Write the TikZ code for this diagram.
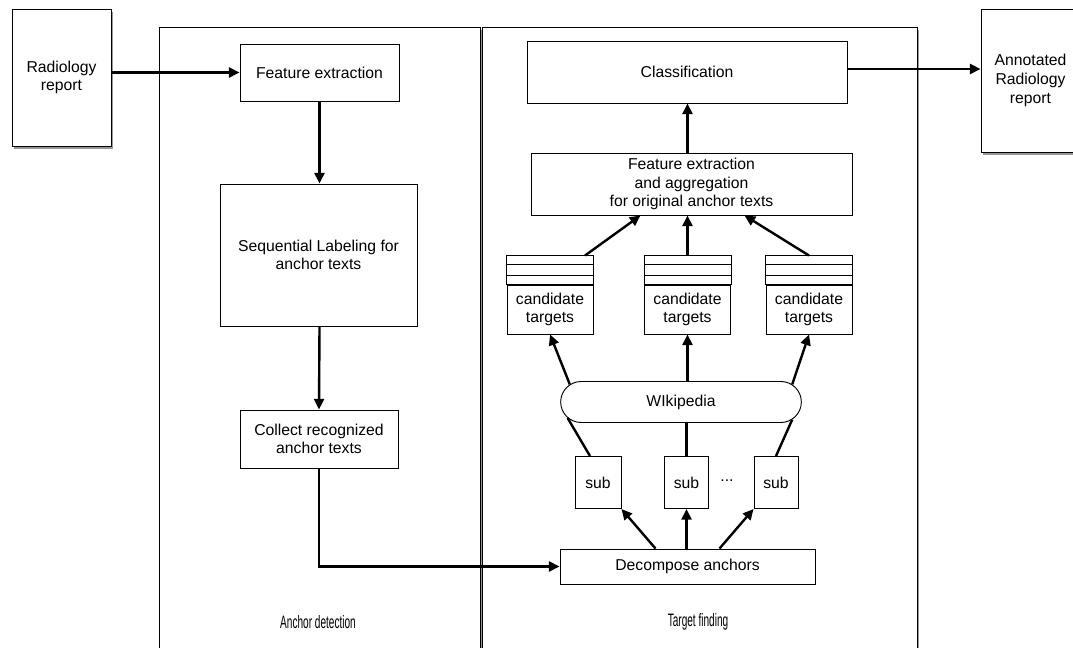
\documentclass[tikz,border=0pt]{standalone}
\usepackage{fontspec}
\setmainfont{Liberation Sans}
\usetikzlibrary{arrows.meta,shapes.misc,shadows}
\newcommand{\px}{0.75pt}

\begin{document}
\begin{tikzpicture}[x=0.75pt,y=-0.75pt,line width=.7pt,
  font=\fontsize{11.8}{14}\selectfont,
  box/.style={draw,fill=white,align=center,inner sep=2pt},
  shade/.style={drop shadow={shadow xshift=1.6pt,shadow yshift=-2.2pt,fill=black!55,opacity=.75}},
  arr/.style={-{Triangle[length=8pt,width=7.5pt]},line width=1.8pt},
  link/.style={line width=1.8pt}]
\path[use as bounding box] (0,0) rectangle (1073,648);
% panels
\draw[fill=white,shade] (159,27) rectangle (480,670);
\draw[fill=white,shade] (482,27) rectangle (917,670);
\node (anchorlbl) at (318,622) {\fontsize{13.5}{14}\selectfont\scalebox{0.56}[1]{Anchor detection}};
\node (targetlbl) at (698,622) {\fontsize{13.5}{14}\selectfont\scalebox{0.56}[1]{Target finding}};
% documents
\node[box,shade,minimum width=99*\px,minimum height=137*\px] (rad) at (61.5,77.5) {Radiology\\report};
\node[box,shade,minimum width=99*\px,minimum height=143*\px] (ann) at (1030.5,80.5) {Annotated\\Radiology\\report};
% anchor detection
\node[box,minimum width=159*\px,minimum height=57*\px] (fe) at (319.5,72.5) {Feature extraction};
\node[box,minimum width=197*\px,minimum height=142*\px] (seq) at (318.5,255) {Sequential Labeling for\\anchor texts};
\node[box,minimum width=158*\px,minimum height=58*\px] (col) at (319,439) {Collect recognized\\anchor texts};
% target finding
\node[box,minimum width=320*\px,minimum height=62*\px] (class) at (687,72) {Classification};
\node[box,minimum width=321*\px,minimum height=62*\px] (agg) at (691.5,184) {Feature extraction\\and aggregation\\for original anchor texts};
\foreach \n/\x in {ca/550,cb/687.5,cc/809}{
  \node[box,minimum width=86*\px,minimum height=49*\px] (\n) at (\x,309.5) {candidate\\targets};
  \draw[fill=white] (\n.north west) rectangle ([yshift=29*\px]\n.north east);
  \draw ([yshift=9*\px]\n.north west) -- ([yshift=9*\px]\n.north east);
  \draw ([yshift=20*\px]\n.north west) -- ([yshift=20*\px]\n.north east);
  \coordinate (\n-top) at ([yshift=29*\px]\n.north);
}
\node[box,rounded rectangle,minimum width=246*\px,minimum height=41*\px] (wiki) at (681,402) {WIkipedia};
\node[box,minimum width=46*\px,minimum height=52*\px] (sa) at (598,482.5) {sub};
\node[box,minimum width=44*\px,minimum height=52*\px] (sb) at (686.5,482.5) {sub};
\node[box,minimum width=44*\px,minimum height=52*\px] (sc) at (776,482.5) {sub};
\node (dots) at (727,481) {...};
\node[box,minimum width=255*\px,minimum height=35*\px] (dec) at (687.5,566.5) {Decompose anchors};
% connectors
\draw[arr] (rad.east |- fe.west) -- (fe.west);
\draw[arr] (fe.south) -- (fe.south |- seq.north);
\draw[arr] (fe.south |- seq.south) -- (col.north);
\draw[arr] (col.south) |- (dec.west);
\draw[arr] ([xshift=-24pt]dec.north) -- (sa.south east);
\draw[arr] (sb.south |- dec.north) -- (sb.south);
\draw[arr] ([xshift=24pt]dec.north) -- (sc.south west);
\draw[link] ([xshift=-6pt]sa.north) -- (wiki.188);
\draw[link] (sb.north) -- (sb.north |- wiki.south);
\draw[link] (sc.north) -- (wiki.351);
\draw[arr] (wiki.171) -- (ca.south);
\draw[arr] (cb.south |- wiki.north) -- (cb.south);
\draw[arr] (wiki.9) -- (cc.south);
\draw[arr] ([xshift=35*\px]ca-top) -- ([xshift=-51*\px]agg.south);
\draw[arr] (cb-top) -- (cb-top |- agg.south);
\draw[arr] (cc-top) -- ([xshift=53*\px]agg.south);
\draw[arr] (cb-top |- agg.north) -- (cb-top |- class.south);
\draw[arr] ([yshift=3*\px]class.east) -- ([yshift=3*\px]class.east -| ann.west);
\end{tikzpicture}
\end{document}
